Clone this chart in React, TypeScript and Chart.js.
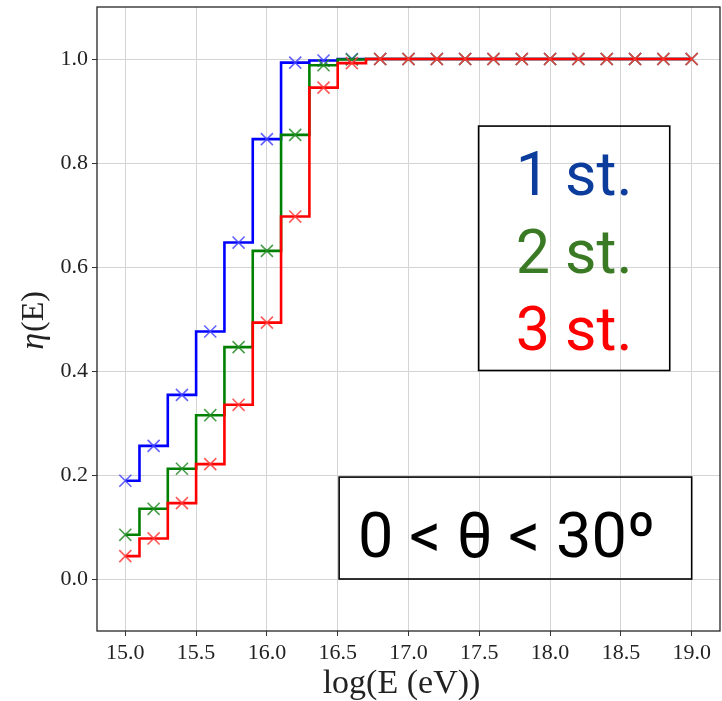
import React, { useEffect, useRef } from "react";
import { Chart, registerables } from "chart.js";

Chart.register(...registerables);

const logE = [15.0, 15.2, 15.4, 15.6, 15.8, 16.0, 16.2, 16.4, 16.6, 16.8, 17.0, 17.2, 17.4, 17.6, 17.8, 18.0, 18.2, 18.4, 18.6, 18.8, 19.0];
const eta1 = [0.189, 0.256, 0.354, 0.476, 0.647, 0.846, 0.993, 0.997, 1.0, 1.0, 1.0, 1.0, 1.0, 1.0, 1.0, 1.0, 1.0, 1.0, 1.0, 1.0, 1.0];
const eta2 = [0.085, 0.135, 0.212, 0.315, 0.446, 0.631, 0.854, 0.988, 0.999, 1.0, 1.0, 1.0, 1.0, 1.0, 1.0, 1.0, 1.0, 1.0, 1.0, 1.0, 1.0];
const eta3 = [0.044, 0.078, 0.146, 0.221, 0.335, 0.493, 0.697, 0.945, 0.992, 1.0, 1.0, 1.0, 1.0, 1.0, 1.0, 1.0, 1.0, 1.0, 1.0, 1.0, 1.0];

const xTicks = [15.0, 15.5, 16.0, 16.5, 17.0, 17.5, 18.0, 18.5, 19.0];
const yTicks = [0.0, 0.2, 0.4, 0.6, 0.8, 1.0];

const xTitle = "log(E (eV))";
const yTitleSymbol = "η";
const yTitleArg = "(E)";

const stationLabels = ["1 st.", "2 st.", "3 st."];
const stationTextColors = ["#0c3c9c", "#3b7a24", "#ff0000"];
const angleLabel = "0 < θ < 30º";

const serif = "'Liberation Serif', 'DejaVu Serif', serif";

const boxesPlugin = {
  id: "boxes",
  afterDraw(chart: any) {
    const { ctx, chartArea, scales } = chart;
    const xs = scales.x;
    const ys = scales.y;
    ctx.save();
    // frame
    ctx.strokeStyle = "#262626";
    ctx.lineWidth = 1.3;
    ctx.strokeRect(chartArea.left, chartArea.top, chartArea.right - chartArea.left, chartArea.bottom - chartArea.top);

    // axis titles
    ctx.fillStyle = "#222";
    ctx.textBaseline = "alphabetic";
    ctx.textAlign = "center";
    ctx.font = `34px ${serif}`;
    ctx.fillText(xTitle, (chartArea.left + chartArea.right) / 2 - 7, 693);

    ctx.save();
    ctx.translate(43, (chartArea.top + chartArea.bottom) / 2 + 2);
    ctx.rotate(-Math.PI / 2);
    ctx.font = `italic 34px ${serif}`;
    const w1 = ctx.measureText(yTitleSymbol).width;
    ctx.font = `32px ${serif}`;
    const w2 = ctx.measureText(yTitleArg).width;
    const start = -(w1 + w2) / 2;
    ctx.textAlign = "left";
    ctx.font = `italic 34px ${serif}`;
    ctx.fillText(yTitleSymbol, start, 0);
    ctx.font = `32px ${serif}`;
    ctx.fillText(yTitleArg, start + w1 + 1, 0);
    ctx.restore();

    // station legend box
    ctx.lineWidth = 1.6;
    ctx.strokeStyle = "#000";
    const b1l = xs.getPixelForValue(17.495);
    const b1r = xs.getPixelForValue(18.845);
    const b1t = ys.getPixelForValue(0.871);
    const b1b = ys.getPixelForValue(0.401);
    ctx.strokeRect(b1l, b1t, b1r - b1l, b1b - b1t);
    ctx.font = "61px Roboto";
    ctx.textAlign = "center";
    ctx.textBaseline = "alphabetic";
    const cx = (b1l + b1r) / 2;
    const lineH = 77.5;
    stationLabels.forEach((t, i) => {
      ctx.fillStyle = stationTextColors[i];
      ctx.fillText(t, cx, b1t + 69 + i * lineH);
    });

    // angle box
    const b2l = xs.getPixelForValue(16.51);
    const b2r = xs.getPixelForValue(19.0);
    const b2t = ys.getPixelForValue(0.196);
    const b2b = ys.getPixelForValue(0.0);
    ctx.strokeRect(b2l, b2t, b2r - b2l, b2b - b2t);
    ctx.fillStyle = "#000";
    ctx.textAlign = "left";
    ctx.font = "63px Roboto";
    ctx.fillText(angleLabel, b2l + 19, b2t + 80);
    ctx.restore();
  },
};

function toPts(ys: number[]) {
  return logE.map((x, i) => ({ x, y: ys[i] }));
}

export default function App() {
  const ref = useRef<HTMLCanvasElement | null>(null);
  useEffect(() => {
    document.body.style.margin = "0";
    const canvas = ref.current!;
    const mk = (label: string, data: number[], line: string, mark: string, order: number) => ({
      label,
      data: toPts(data),
      order,
      borderColor: line,
      borderWidth: 2.6,
      stepped: "middle" as const,
      pointStyle: "crossRot" as const,
      pointRadius: 8.5,
      pointBorderColor: mark,
      pointBackgroundColor: mark,
      pointBorderWidth: 1.6,
      fill: false,
    });
    const chart = new Chart(canvas, {
      type: "line",
      data: {
        datasets: [
          mk("1 st.", eta1, "#0000ff", "rgba(70,70,255,0.85)", 2),
          mk("2 st.", eta2, "#008000", "rgba(40,140,40,0.85)", 1),
          mk("3 st.", eta3, "#ff0000", "rgba(255,60,60,0.85)", 0),
        ],
      },
      options: {
        responsive: false,
        animation: false,
        layout: { autoPadding: false, padding: { top: 7, right: 2, left: 0, bottom: 0 } },
        plugins: { legend: { display: false }, tooltip: { enabled: false } },
        scales: {
          x: {
            type: "linear",
            min: 14.8,
            max: 19.2,
            afterBuildTicks: (s: any) => {
              s.ticks = xTicks.map((v) => ({ value: v }));
            },
            afterFit: (s: any) => {
              s.height = 70;
              s.paddingLeft = 0;
              s.paddingRight = 0;
            },
            ticks: {
              font: { family: serif, size: 22 },
              color: "#222",
              padding: 4,
              maxRotation: 0,
              autoSkip: false,
              callback: (v: any) => Number(v).toFixed(1),
            },
            grid: { color: "#d4d4d4", lineWidth: 1, tickColor: "#333", tickLength: 5 },
            border: { display: false },
            title: { display: false },
          },
          y: {
            type: "linear",
            min: -0.1,
            max: 1.1,
            afterBuildTicks: (s: any) => {
              s.ticks = yTicks.map((v) => ({ value: v }));
            },
            afterFit: (s: any) => {
              s.width = 97;
              s.paddingTop = 0;
              s.paddingBottom = 0;
            },
            ticks: {
              font: { family: serif, size: 22 },
              color: "#222",
              padding: 4,
              autoSkip: false,
              callback: (v: any) => Number(v).toFixed(1),
            },
            grid: { color: "#d4d4d4", lineWidth: 1, tickColor: "#333", tickLength: 5 },
            border: { display: false },
            title: { display: false },
          },
        },
      },
      plugins: [boxesPlugin],
    });
    return () => chart.destroy();
  }, []);
  return (
    <div style={{ position: "absolute", left: 0, top: 0, width: 722, height: 701, background: "#fff" }}>
      <canvas ref={ref} width={722} height={701} />
    </div>
  );
}
